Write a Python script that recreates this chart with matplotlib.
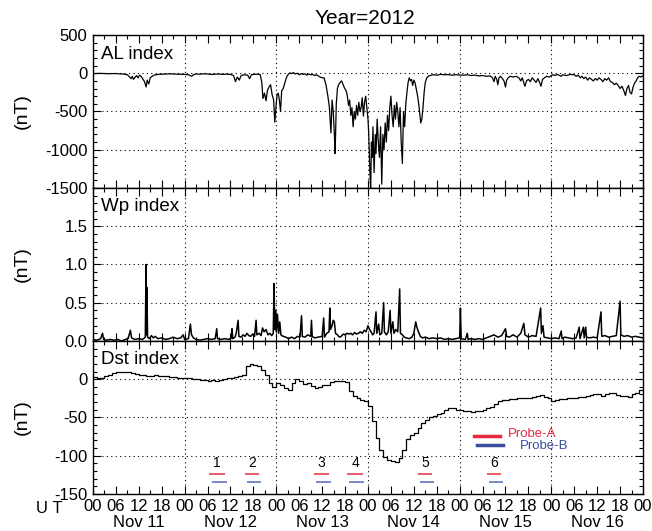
import numpy as np
import matplotlib.pyplot as plt
import matplotlib.transforms as mtransforms
from matplotlib.ticker import MultipleLocator, FixedLocator, FormatStrFormatter

plt.rcParams['font.family'] = ['Liberation Sans', 'DejaVu Sans']
plt.rcParams['axes.unicode_minus'] = False

# time axis: hours since 2012-11-11 00 UT
al_t = [0, 1, 2, 3, 4, 5, 6, 7, 8, 9, 9.5, 10, 10.3, 10.6, 11, 11.4, 11.8, 12.2, 12.6, 13, 13.5, 13.9, 14.2, 14.6, 15, 15.5, 16, 17, 18, 19, 20, 21, 22, 23,
        24, 25, 25.8, 26.5, 27, 28, 29, 30, 31, 32, 33, 34, 35, 36, 36.8, 37.3, 37.8, 38.3, 38.8, 39.5, 40.5, 41, 41.5, 42, 43, 43.8,
        44.2, 44.5, 44.9, 45.3, 45.7, 46.1, 46.5, 46.9, 47.3, 47.6, 47.9, 48.2, 48.5, 48.8, 49.1, 49.4, 49.8, 50.2, 50.5, 50.8, 51.2,
        51.6, 52, 52.5, 53, 53.5, 54, 54.5, 55, 55.5, 56, 56.5, 57, 57.5, 58, 58.5, 59, 59.5, 60, 60.5, 61, 61.5, 61.9, 62.3, 62.6, 62.9,
        63.2, 63.4, 63.7, 64, 64.3, 64.7, 65.1, 65.5, 65.9, 66.3, 66.6, 66.9, 67.2, 67.5, 67.8, 68.1, 68.4, 68.7, 69, 69.3, 69.6, 69.9,
        70.2, 70.5, 70.8, 71.1, 71.4, 71.7, 72,
        72.2, 72.5, 72.7, 72.9, 73.1, 73.3, 73.6, 73.9, 74.1, 74.4, 74.7, 75, 75.3, 75.6, 75.9, 76.2, 76.5, 76.8, 77.1, 77.4, 77.7, 78,
        78.3, 78.6, 78.9, 79.2, 79.5, 79.8, 80.1, 80.4, 80.7, 81, 81.3, 81.6, 81.9, 82.2, 82.5, 82.8, 83.1, 83.4, 83.7, 84, 84.3, 84.6,
        85, 85.4, 85.8, 86.1, 86.4, 86.7, 87, 87.4, 87.8, 88.2, 89, 90, 91, 92, 93, 94, 95, 96,
        97, 98, 99, 100, 101, 102, 103, 104, 104.6, 105, 105.3, 105.7, 106, 106.3, 106.7, 107.2, 107.6, 108, 108.3, 108.7, 109.2, 110,
        110.8, 111.5, 112, 112.4, 112.8, 113.1, 113.5, 114, 114.5, 115, 115.5, 116, 116.5, 117, 117.3, 117.7, 118.2, 118.8, 119.5, 120,
        120.5, 121, 121.5, 122, 122.5, 123, 124, 125, 126, 126.5, 127, 127.6, 128, 128.5, 129, 129.5, 130, 130.5, 131, 131.5, 132, 132.5,
        133, 133.5, 134, 134.5, 135, 135.5, 136, 136.5, 137, 137.5, 138, 138.5, 139, 139.4, 139.8, 140.2, 140.6, 141, 141.4, 141.8,
        142.2, 142.6, 143, 143.5, 144]
al_v = [-5, -3, -2, -4, -6, -5, -4, -8, -10, -20, -45, -70, -40, -80, -55, -30, -60, -25, -40, -70, -110, -180, -90, -140, -60, -40, -25, -15, -12, -10, -8, -10, -12, -15,
        -15, -20, -40, -15, -10, -12, -8, -10, -15, -12, -10, -15, -12, -15, -30, -110, -50, -90, -30, -20, -25, -70, -20, -15, -12, -20,
        -120, -330, -260, -360, -220, -180, -150, -280, -350, -640, -450, -280, -260, -350, -500, -230, -200, -130, -80, -40, -10,
        5, -5, 8, -10, 0, -20, -5, -15, -8, -25, -10, -20, -15, -30, -20, -35, -50, -60, -60, -150, -300, -450, -780, -350, -500,
        -800, -1050, -400, -200, -150, -120, -100, -150, -200, -230, -300, -420, -350, -550, -450, -700, -500, -600, -420, -550, -380, -500,
        -450, -320, -560, -380, -300, -450, -600,
        -800, -1300, -1520, -900, -1100, -700, -1300, -800, -1050, -600, -900, -1100, -700, -1450, -800, -1000, -650, -900, -550, -750, -450, -300,
        -550, -700, -420, -600, -380, -500, -700, -450, -900, -1180, -500, -700, -400, -250, -120, -60, -100, -80, -160, -90, -120, -200,
        -300, -450, -650, -600, -450, -250, -120, -60, -40, -30, -20, -25, -15, -20, -18, -25, -20, -22,
        -25, -20, -30, -25, -35, -30, -40, -35, -60, -110, -40, -80, -150, -60, -40, -70, -100, -180, -90, -60, -40, -50,
        -40, -60, -100, -60, -130, -170, -100, -80, -110, -60, -90, -120, -70, -130, -170, -80, -60, -40, -50, -30,
        -20, -30, -15, -25, -40, -20, -30, -15, -20, -40, -25, -60, -40, -70, -50, -90, -60, -80, -100, -70, -90, -60,
        -80, -110, -70, -90, -60, -110, -120, -150, -130, -160, -200, -170, -230, -290, -200, -160, -250, -270, -180, -130,
        -100, -60, -40, -50, -30]

wp_t = [0, 1, 2, 2.5, 2.8, 3.5, 4.5, 5.5, 6.5, 7.5, 8.5, 9.2, 9.8, 10.1, 11, 12, 13, 13.7, 13.9, 14.0, 14.1, 14.3, 14.8, 15.3, 15.8, 16.3,
        17, 18, 19, 20, 21, 22, 23, 23.6, 24,
        25, 25.5, 25.8, 26.3, 27, 28, 29, 30, 31, 32, 32.4, 32.6, 33.5, 34.5, 35.5, 36.3, 36.4, 36.6, 37.2, 37.5, 38, 38.2, 38.8, 39.3,
        39.8, 40.3, 40.8, 41.3, 41.8, 42.3, 42.7, 42.9, 43.5, 44, 44.4, 44.8, 45.3, 45.8, 46.3, 46.8, 47.2, 47.4, 47.6, 47.8, 48, 48.3,
        48.6, 48.9, 49.2, 49.8,
        50.5, 51.2, 52, 52.8, 53.5, 54.2, 54.6, 54.8, 55.5, 56.2, 57, 57.2, 57.4, 58, 59, 60, 60.4, 60.6, 61.2, 61.8, 62, 62.2, 62.6,
        62.9, 63.2, 63.5, 64, 64.5, 65, 65.5, 66, 66.5, 67, 67.5, 68, 68.5, 69, 69.5, 70, 70.5, 71, 71.5, 72,
        72.4, 72.8, 73.2, 73.6, 74.1, 74.3, 74.8, 75.1, 75.6, 76.1, 76.3, 76.8, 77.3, 77.8, 78, 78.5, 78.8, 79.3, 79.8, 80.3, 80.5, 81,
        81.5, 82, 82.8, 83.5, 84, 84.5, 84.8, 85.2, 85.7, 86.3, 87, 88, 89, 90, 91, 92, 93, 94, 95, 96,
        96.2, 96.4, 97.5, 98, 98.2, 99, 100, 101, 102, 103, 104, 105, 106, 107, 108, 108.3, 109, 110, 111, 112, 112.8, 113.1, 114, 115,
        116, 117.2, 117.4, 117.8, 118.1, 119, 120,
        121, 122, 122.6, 122.8, 123.5, 124.5, 125.5, 126.5, 127.3, 127.5, 128.4, 128.6, 129, 129.2, 130, 131, 132, 133, 133.2, 134, 135,
        136, 137, 138, 138.2, 139, 140, 141, 142, 143, 144]
wp_v = [0.02, 0.01, 0.03, 0.10, 0.02, 0.01, 0.02, 0.01, 0.02, 0.0, 0.02, 0.03, 0.14, 0.04, 0.02, 0.03, 0.02, 0.05, 1.0, 0.08, 0.7, 0.05, 0.03, 0.07, 0.04, 0.06,
        0.03, 0.04, 0.02, 0.03, 0.05, 0.03, 0.04, 0.08, 0.02,
        0.03, 0.22, 0.08, 0.04, 0.02, 0.01, 0.02, 0.03, 0.02, 0.03, 0.16, 0.03, 0.02, 0.03, 0.02, 0.04, 0.16, 0.03, 0.05, 0.10, 0.27, 0.06, 0.05, 0.08,
        0.06, 0.10, 0.07, 0.06, 0.09, 0.06, 0.27, 0.08, 0.10, 0.07, 0.17, 0.12, 0.15, 0.08, 0.10, 0.07, 0.10, 0.75, 0.15, 0.40, 0.12, 0.35,
        0.10, 0.25, 0.08, 0.06,
        0.05, 0.03, 0.05, 0.03, 0.06, 0.05, 0.33, 0.06, 0.05, 0.08, 0.06, 0.27, 0.06, 0.04, 0.05, 0.06, 0.30, 0.05, 0.10, 0.12, 0.43, 0.15, 0.20,
        0.27, 0.25, 0.10, 0.08, 0.05, 0.06, 0.09, 0.08, 0.10, 0.09, 0.10, 0.08, 0.11, 0.09, 0.10, 0.12, 0.10, 0.14, 0.12, 0.20,
        0.15, 0.12, 0.08, 0.10, 0.38, 0.10, 0.22, 0.08, 0.10, 0.50, 0.12, 0.08, 0.12, 0.40, 0.10, 0.25, 0.10, 0.15, 0.12, 0.68, 0.10, 0.08,
        0.05, 0.04, 0.03, 0.05, 0.10, 0.25, 0.18, 0.12, 0.06, 0.04, 0.05, 0.03, 0.04, 0.03, 0.04, 0.02, 0.03, 0.02, 0.03, 0.04,
        0.43, 0.03, 0.02, 0.10, 0.02, 0.03, 0.02, 0.03, 0.02, 0.04, 0.06, 0.08, 0.05, 0.07, 0.16, 0.06, 0.05, 0.08, 0.05, 0.10, 0.23, 0.08, 0.05, 0.07,
        0.06, 0.43, 0.10, 0.20, 0.05, 0.04, 0.03,
        0.04, 0.03, 0.13, 0.03, 0.05, 0.04, 0.03, 0.04, 0.18, 0.03, 0.18, 0.04, 0.18, 0.05, 0.04, 0.05, 0.04, 0.38, 0.06, 0.07, 0.05,
        0.06, 0.07, 0.52, 0.08, 0.06, 0.07, 0.05, 0.06, 0.05, 0.04]

# hourly Dst, 00 UT Nov 11 through 23 UT Nov 16
dst_v = [3, 2, 2, 4, 6, 8, 9, 10, 9, 9, 8, 7, 6, 5, 4, 4, 5, 4, 4, 4, 3, 3, 2, 2,
         1, 1, 0, 0, -1, -1, -2, -1, -2, -1, 0, 1, 2, 3, 4, 6, 17, 20, 18, 17, 12, 5, -5, -10,
         -5, -8, -12, -14, -5, 0, -3, -6, -5, -9, -11, -10, -8, -7, -4, -2, -3, -2, -4, -15, -22, -24, -27, -28,
         -35, -54, -77, -93, -102, -106, -107, -108, -103, -92, -78, -73, -70, -64, -57, -53, -50, -48, -46, -44, -40, -37, -38, -40,
         -40, -41, -42, -43, -42, -41, -40, -38, -36, -33, -28, -27, -27, -26, -26, -25, -25, -24, -24, -23, -22, -21, -23, -25,
         -28, -27, -26, -26, -25, -24, -24, -23, -23, -22, -21, -20, -19, -22, -19, -18, -18, -21, -22, -22, -23, -19, -18, -14]

days = ['Nov 11', 'Nov 12', 'Nov 13', 'Nov 14', 'Nov 15', 'Nov 16']
hour_labels = ['00', '06', '12', '18']

# orbit passes (hours), probe A / probe B
pass_ids = ['1', '2', '3', '4', '5', '6']
probe_a_start = [30.4, 39.8, 57.9, 66.6, 85.0, 103.1]
probe_a_end = [34.5, 43.5, 61.8, 70.6, 88.8, 106.7]
probe_b_start = [31.2, 40.2, 58.4, 67.1, 85.6, 103.7]
probe_b_end = [35.0, 44.0, 62.3, 71.0, 89.3, 107.4]

red = '#e8283c'
blue = '#3c4ea0'

fig = plt.figure(figsize=(6.52, 5.31), dpi=100)
left, width, height = 0.1426, 0.8436, 0.2881
ax1 = fig.add_axes([left, 0.6460, width, height])
ax2 = fig.add_axes([left, 0.3579, width, height])
ax3 = fig.add_axes([left, 0.0698, width, height])


def style(ax, yticks, ymin, ylim):
    ax.set_xlim(0, 144)
    ax.set_ylim(*ylim)
    ax.xaxis.set_major_locator(MultipleLocator(6))
    ax.xaxis.set_minor_locator(MultipleLocator(3))
    ax.yaxis.set_major_locator(FixedLocator(yticks))
    ax.yaxis.set_minor_locator(MultipleLocator(ymin))
    ax.tick_params(which='both', direction='in', top=True, right=True, labelsize=12, pad=4)
    ax.tick_params(which='major', length=5.5, width=0.8)
    ax.tick_params(which='minor', length=2.8, width=0.8)
    for y in yticks:
        ax.axhline(y, color='k', ls=(0, (1, 3)), lw=0.8)
    for d in range(1, len(days)):
        ax.axvline(24 * d, color='k', ls=(0, (1, 3)), lw=0.8)
    ax.set_ylabel('(nT)', fontsize=14)
    ax.yaxis.set_label_coords(-0.113, 0.5)
    for s in ax.spines.values():
        s.set_linewidth(1.0)


ax1.plot(al_t, al_v, color='k', lw=0.9)
style(ax1, [-1500, -1000, -500, 0, 500], 100, (-1500, 500))
ax1.tick_params(labelbottom=False)
ax1.text(0.015, 0.875, 'AL index', transform=ax1.transAxes, fontsize=13.5, va='center')

ax2.plot(wp_t, wp_v, color='k', lw=1.1)
style(ax2, [0.0, 0.5, 1.0, 1.5], 0.1, (0.0, 2.0))
ax2.yaxis.set_major_formatter(FormatStrFormatter('%.1f'))
ax2.tick_params(labelbottom=False)
ax2.text(0.015, 0.88, 'Wp index', transform=ax2.transAxes, fontsize=13.5, va='center')

hours = np.arange(len(dst_v) + 1)
ax3.step(hours, dst_v + dst_v[-1:], where='post', color='k', lw=0.9)
style(ax3, [-150, -100, -50, 0], 10, (-150, 50))
ax3.text(0.015, 0.88, 'Dst index', transform=ax3.transAxes, fontsize=13.5, va='center')

# hour labels on the ticks, day names underneath at local noon
ticks = np.arange(0, 24 * len(days) + 1, 6)
ax3.set_xticks(ticks)
ax3.set_xticklabels([hour_labels[(t // 6) % 4] for t in ticks], fontsize=12)
day_tr = mtransforms.blended_transform_factory(ax3.transData, ax3.transAxes)
for i, d in enumerate(days):
    ax3.text(24 * i + 12, -0.185, d, transform=day_tr, ha='center', va='center', fontsize=12)

# probe passes
ax3.hlines([-124] * len(pass_ids), probe_a_start, probe_a_end, color='#e4505e', lw=1.3)
ax3.hlines([-135] * len(pass_ids), probe_b_start, probe_b_end, color='#7080c4', lw=1.3)
for i, lab in enumerate(pass_ids):
    ax3.text((probe_a_start[i] + probe_a_end[i]) / 2, -110, lab, ha='center', va='center', fontsize=10)

# legend keys
ax3.plot([0.6927, 0.740], [0.377, 0.377], color=red, lw=2.5, transform=ax3.transAxes)
ax3.plot([0.6976, 0.746], [0.322, 0.322], color=blue, lw=2.5, transform=ax3.transAxes)
ax3.text(0.7545, 0.395, 'Probe-A', color=red, fontsize=9.5, va='center', transform=ax3.transAxes)
ax3.text(0.7758, 0.316, 'Probe-B', color=blue, fontsize=9.5, va='center', transform=ax3.transAxes)

fig.text(0.56, 0.966, 'Year=2012', ha='center', va='center', fontsize=15)
fig.text(0.075, 0.043, 'U T', ha='center', va='center', fontsize=12)

fig.savefig('out.png', dpi=100)
